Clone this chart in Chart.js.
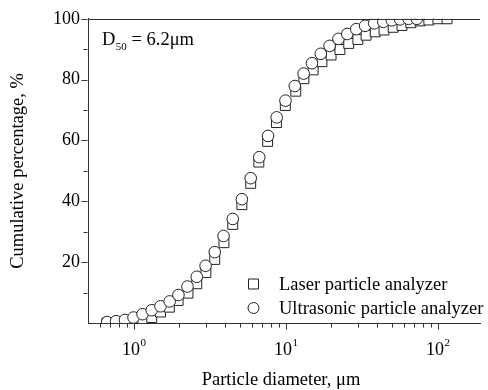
<!DOCTYPE html>
<html>
<head>
<meta charset="utf-8">
<script src="https://cdn.jsdelivr.net/npm/chart.js@4/dist/chart.umd.min.js"></script>
<style>
html,body{margin:0;padding:0;background:#fff;}
#wrap{width:488px;height:390px;position:relative;}
</style>
</head>
<body>
<div id="wrap"><canvas id="c" width="488" height="390"></canvas></div>
<script>
// ---- data ----
const laserSize = [0.666, 0.763, 0.874, 1.00, 1.147, 1.313, 1.50, 1.715, 1.96, 2.275, 2.599, 2.984, 3.412, 3.923, 4.484, 5.147, 5.885, 6.657, 7.608, 8.698, 9.94, 11.65, 13.18, 15.16, 17.33, 19.89, 22.74, 25.99, 29.85, 33.81, 38.82, 44.37, 50.95, 58.26, 66.57, 76.54, 87.5, 100.4, 115.3];
const laserPct  = [0, 0, 0.1, 0.3, 0.8, 1.8, 3.6, 5.2, 7.4, 9.8, 12.9, 16.6, 20.9, 26.4, 32.4, 38.9, 45.9, 52.9, 59.7, 65.9, 71.5, 76.2, 80.3, 83.2, 85.9, 88.1, 89.9, 91.9, 93.2, 94.6, 95.7, 96.3, 97.2, 97.8, 98.7, 99.3, 99.6, 100, 100];
const ultraSize = [0.669, 0.765, 0.875, 0.997, 1.143, 1.313, 1.50, 1.723, 1.969, 2.258, 2.599, 2.971, 3.412, 3.899, 4.484, 5.147, 5.885, 6.697, 7.654, 8.722, 9.97, 11.48, 13.13, 14.89, 17.02, 19.45, 22.24, 25.42, 29.15, 33.31, 38.24, 43.91, 49.96, 56.69, 64.34, 72.98];
const ultraPct  = [0.3, 0.6, 1.0, 1.8, 2.9, 4.2, 5.5, 7.1, 9.2, 12.0, 15.2, 18.8, 23.3, 28.6, 34.2, 40.7, 47.6, 54.5, 61.5, 67.6, 73.1, 77.9, 82.0, 85.4, 88.5, 91.1, 93.4, 95.0, 96.6, 97.7, 98.5, 99.0, 99.5, 99.8, 100, 100];

const seriesNames = ['Laser particle analyzer', 'Ultrasonic particle analyzer'];
const xMajorTicks = [1, 10, 100];
const xTickExponents = ['0', '1', '2'];
const xMinorTicks = [0.6, 0.7, 0.8, 0.9, 2, 3, 4, 5, 6, 7, 8, 9, 20, 30, 40, 50, 60, 70, 80, 90];
const yMajorTicks = [20, 40, 60, 80, 100];
const yMinorTicks = [10, 30, 50, 70, 90];
const xTitle = 'Particle diameter, \u03bcm';
const yTitle = 'Cumulative percentage, %';
const annotationMain = 'D';
const annotationSub = '50';
const annotationRest = ' = 6.2\u03bcm';

const FONT = "'Liberation Serif', 'Times New Roman', serif";
const axisColor = '#333';
const markColor = '#222';

function pts(xs, ys) { return xs.map((v, i) => ({x: v, y: ys[i]})); }

const decor = {
  id: 'decor',
  afterDraw(chart) {
    const {ctx, chartArea: a, scales: {x, y}} = chart;
    ctx.save();
    ctx.strokeStyle = axisColor;
    ctx.lineWidth = 1;
    // top frame line
    const yt = Math.round(y.getPixelForValue(100)) + 0.5;
    ctx.beginPath(); ctx.moveTo(a.left, yt); ctx.lineTo(a.right, yt); ctx.stroke();
    // y ticks
    const xl = Math.round(a.left) - 0.5;
    ctx.beginPath();
    yMajorTicks.forEach(v => { const p = Math.round(y.getPixelForValue(v)) + 0.5; ctx.moveTo(xl, p); ctx.lineTo(xl - 6, p); });
    yMinorTicks.forEach(v => { const p = Math.round(y.getPixelForValue(v)) + 0.5; ctx.moveTo(xl, p); ctx.lineTo(xl - 4, p); });
    // x ticks
    const yb = Math.round(a.bottom) + 0.5;
    xMajorTicks.forEach(v => { const p = Math.round(x.getPixelForValue(v)) + 0.5; ctx.moveTo(p, yb); ctx.lineTo(p, yb + 6); });
    xMinorTicks.forEach(v => { const p = Math.round(x.getPixelForValue(v)) + 0.5; ctx.moveTo(p, yb); ctx.lineTo(p, yb + 4); });
    ctx.stroke();

    // x tick labels with superscript
    ctx.fillStyle = '#000';
    ctx.textBaseline = 'alphabetic';
    xMajorTicks.forEach((v, i) => {
      const p = x.getPixelForValue(v);
      ctx.font = '18px ' + FONT;
      const w1 = ctx.measureText('10').width;
      ctx.font = '11px ' + FONT;
      const w2 = ctx.measureText(xTickExponents[i]).width;
      const start = p - (w1 + w2) / 2;
      ctx.font = '18px ' + FONT;
      ctx.textAlign = 'left';
      ctx.fillText('10', start, 355);
      ctx.font = '11px ' + FONT;
      ctx.fillText(xTickExponents[i], start + w1 + 0.5, 346);
    });

    // x title
    ctx.font = '18.5px ' + FONT;
    ctx.textAlign = 'center';
    ctx.fillText(xTitle, 281, 385);

    // annotation D50
    ctx.textAlign = 'left';
    let cx = 102;
    ctx.font = '18.5px ' + FONT;
    ctx.fillText(annotationMain, cx, 45);
    cx += ctx.measureText(annotationMain).width + 0.5;
    ctx.font = '11px ' + FONT;
    ctx.fillText(annotationSub, cx, 50);
    cx += ctx.measureText(annotationSub).width;
    ctx.font = '18.5px ' + FONT;
    ctx.fillText(annotationRest, cx, 45);

    // legend
    const ly = [284, 308];
    ctx.lineWidth = 1;
    ctx.strokeStyle = markColor;
    ctx.fillStyle = '#fff';
    ctx.beginPath(); ctx.rect(248.5, ly[0] - 5, 10, 10); ctx.fill(); ctx.stroke();
    ctx.beginPath(); ctx.arc(253.5, ly[1], 5.5, 0, Math.PI * 2); ctx.fill(); ctx.stroke();
    ctx.fillStyle = '#000';
    ctx.font = '18.5px ' + FONT;
    ctx.textBaseline = 'middle';
    ctx.fillText(seriesNames[0], 279, ly[0] + 1);
    ctx.fillText(seriesNames[1], 279, ly[1] + 1);
    ctx.restore();
  }
};

new Chart(document.getElementById('c'), {
  type: 'scatter',
  data: {
    datasets: [
      {
        label: seriesNames[1],
        data: pts(ultraSize, ultraPct),
        pointStyle: 'circle',
        pointRadius: 5.8,
        pointHoverRadius: 5.8,
        pointBorderWidth: 1,
        pointBorderColor: markColor,
        pointBackgroundColor: '#fff',
        order: 0
      },
      {
        label: seriesNames[0],
        data: pts(laserSize, laserPct),
        pointStyle: 'rect',
        pointRadius: 7,
        pointHoverRadius: 7,
        pointBorderWidth: 1,
        pointBorderColor: markColor,
        pointBackgroundColor: '#fff',
        order: 1
      }
    ]
  },
  options: {
    responsive: false,
    animation: false,
    events: [],
    layout: {padding: {top: 15, right: 0, left: 0, bottom: 0}},
    plugins: {legend: {display: false}, tooltip: {enabled: false}},
    scales: {
      x: {
        type: 'logarithmic',
        min: 0.5,
        max: 190,
        grid: {display: false, drawTicks: false},
        border: {display: true, color: axisColor, width: 1},
        ticks: {display: false},
        afterFit: s => { s.height = 67; }
      },
      y: {
        type: 'linear',
        min: 0,
        max: 100,
        grid: {display: false, drawTicks: false},
        border: {display: true, color: axisColor, width: 1},
        ticks: {
          stepSize: 20,
          padding: 8,
          color: '#000',
          font: {family: FONT, size: 18},
          callback: v => (v === 0 ? '' : String(v))
        },
        title: {
          display: true,
          text: yTitle,
          color: '#000',
          font: {family: FONT, size: 18.5},
          padding: {top: 7, bottom: 0}
        },
        afterFit: s => { s.width = 88; }
      }
    }
  },
  plugins: [decor]
});
</script>
</body>
</html>
